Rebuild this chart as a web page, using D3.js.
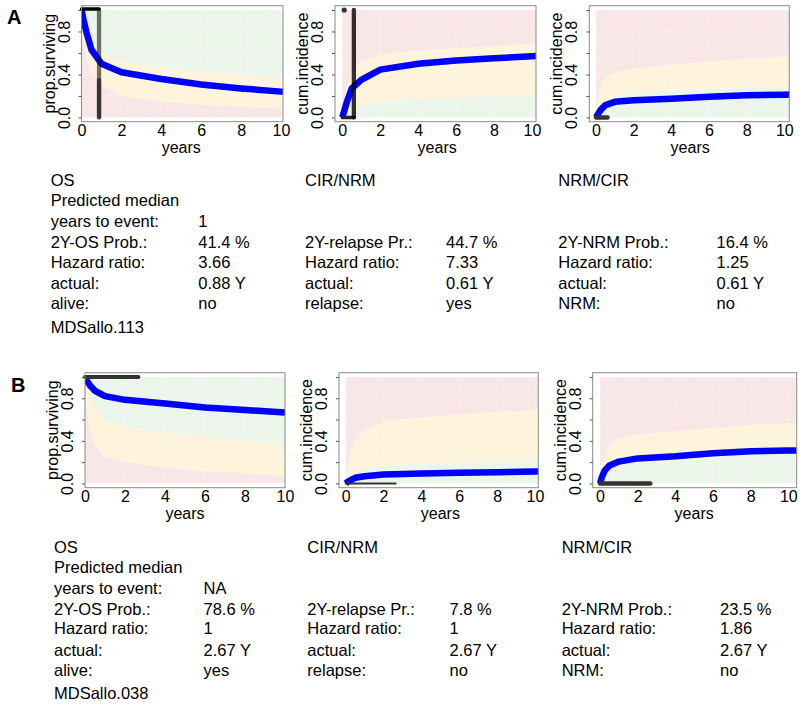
<!DOCTYPE html>
<html><head><meta charset="utf-8">
<script src="https://cdn.jsdelivr.net/npm/d3@7"></script>
<style>
body{margin:0;background:#fff}
svg{display:block}
text{font-family:"Liberation Sans",Arial,Helvetica,sans-serif}
</style>
</head><body>
<svg id="chart" width="800" height="706"></svg>
<script>
// ---------------- DATA ----------------
const times = [0, 0.1, 0.25, 0.5, 1, 2, 4, 6, 8, 10, 10.6];
const xTicks = [0, 2, 4, 6, 8, 10];
const yTicks = [0, 0.2, 0.4, 0.6, 0.8, 1.0];
const yTickLabels = ["0.0", "", "0.4", "", "0.8", ""];

// Panel A
const osA_pred   = [1.0, 0.91, 0.79, 0.63, 0.50, 0.42, 0.357, 0.307, 0.27, 0.24, 0.232];
const osA_upper  = [1.0, 0.95, 0.85, 0.72, 0.60, 0.52, 0.47, 0.43, 0.40, 0.37, 0.36];
const osA_lower  = [1.0, 0.75, 0.55, 0.42, 0.30, 0.20, 0.15, 0.12, 0.10, 0.085, 0.08];
const cirA_pred  = [0, 0.06, 0.15, 0.27, 0.35, 0.445, 0.50, 0.53, 0.55, 0.57, 0.575];
const cirA_upper = [0, 0.15, 0.30, 0.43, 0.52, 0.58, 0.62, 0.645, 0.665, 0.685, 0.69];
const cirA_lower = [0, 0.02, 0.05, 0.08, 0.115, 0.145, 0.17, 0.185, 0.195, 0.21, 0.21];
const nrmA_pred  = [0, 0.03, 0.07, 0.115, 0.145, 0.16, 0.174, 0.192, 0.207, 0.212, 0.213];
const nrmA_upper = [0, 0.20, 0.30, 0.37, 0.42, 0.455, 0.49, 0.52, 0.545, 0.56, 0.565];
const nrmA_lower = [0, 0.06, 0.12, 0.17, 0.205, 0.235, 0.25, 0.265, 0.275, 0.28, 0.28];

// Panel B
const osB_pred   = [1.0, 0.96, 0.92, 0.87, 0.82, 0.785, 0.75, 0.714, 0.69, 0.665, 0.66];
const osB_upper  = [1.0, 0.90, 0.80, 0.70, 0.60, 0.53, 0.48, 0.44, 0.40, 0.36, 0.35];
const osB_lower  = [1.0, 0.70, 0.50, 0.35, 0.25, 0.205, 0.15, 0.12, 0.095, 0.075, 0.07];
const cirB_pred  = [0, 0.015, 0.03, 0.053, 0.068, 0.084, 0.093, 0.10, 0.106, 0.112, 0.113];
const cirB_upper = [0, 0.15, 0.28, 0.40, 0.50, 0.58, 0.62, 0.65, 0.67, 0.69, 0.695];
const cirB_lower = [0, 0.03, 0.07, 0.11, 0.145, 0.17, 0.185, 0.195, 0.20, 0.21, 0.21];
const nrmB_pred  = [0, 0.06, 0.12, 0.168, 0.205, 0.235, 0.255, 0.283, 0.303, 0.31, 0.31];
const nrmB_upper = [0, 0.17, 0.26, 0.35, 0.42, 0.458, 0.49, 0.52, 0.55, 0.565, 0.57];
const nrmB_lower = [0, 0.08, 0.13, 0.17, 0.215, 0.245, 0.26, 0.27, 0.28, 0.285, 0.285];

// patient tracks: [t0, y0, t1, y1]
const trackA_os  = [[0, 1.01, 0.88, 1.01]];
const eventA_os  = [[0.88, 1.0, 0.88, 0.0]];
const eventA_os2 = [[0.88, 0.35, 0.88, 0.0]];
const trackA_cir = [[0, 0, 0.61, 0]];
const eventA_cir = [[0.61, 0, 0.61, 1.0]];
const pointA_cir = [[0.1, 1.0]];
const trackA_nrm = [[0, 0, 0.61, 0]];
const trackB_os  = [[0, 1.0, 2.67, 1.0]];
const trackB_cir = [[0, 0, 2.67, 0]];
const trackB_nrm = [[0, 0, 2.67, 0]];

// text tables
const colTitles = ["OS", "CIR/NRM", "NRM/CIR"];
const rowLabels = [
  ["Predicted median", "years to event:", "2Y-OS Prob.:", "Hazard ratio:", "actual:", "alive:"],
  ["", "", "2Y-relapse Pr.:", "Hazard ratio:", "actual:", "relapse:"],
  ["", "", "2Y-NRM Prob.:", "Hazard ratio:", "actual:", "NRM:"]
];
const valuesA = [
  ["", "1", "41.4 %", "3.66", "0.88 Y", "no"],
  ["", "", "44.7 %", "7.33", "0.61 Y", "yes"],
  ["", "", "16.4 %", "1.25", "0.61 Y", "no"]
];
const valuesB = [
  ["", "NA", "78.6 %", "1", "2.67 Y", "yes"],
  ["", "", "7.8 %", "1", "2.67 Y", "no"],
  ["", "", "23.5 %", "1.86", "2.67 Y", "no"]
];
const patientIds = ["MDSallo.113", "MDSallo.038"];
const panelLetters = ["A", "B"];

// ---------------- LAYOUT / STYLE ----------------
const COL = {green: "#ecf5ea", yellow: "#fdf4db", pink: "#f9e7e7", blue: "#0000ff"};
const FONT = 16;

const plots = [
  {kind: "os",  ylab: "prop.surviving", left: 81.5, right: 283, x0: 81.5, x10: 281, top: 5.7, bottom: 121.7,
   pred: osA_pred, up: osA_upper, lo: osA_lower, track: trackA_os, ev: eventA_os, ev2: eventA_os2, trackW: 3.5, trackC: "#000"},
  {kind: "ci",  ylab: "cum.incidence", left: 335, right: 536, x0: 342.3, x10: 532, top: 5.7, bottom: 121.7,
   pred: cirA_pred, up: cirA_upper, lo: cirA_lower, track: trackA_cir, ev: eventA_cir, pts: pointA_cir, trackW: 3.5, trackC: "#2a2222"},
  {kind: "ci",  ylab: "cum.incidence", left: 589.3, right: 789.3, x0: 596, x10: 784.3, top: 5.7, bottom: 121.7,
   pred: nrmA_pred, up: nrmA_upper, lo: nrmA_lower, track: trackA_nrm, trackW: 4.5, trackC: "#333"},
  {kind: "os",  ylab: "prop.surviving", left: 85, right: 285, x0: 85, x10: 285, top: 372.7, bottom: 487.7,
   pred: osB_pred, up: osB_upper, lo: osB_lower, track: trackB_os, trackW: 4, trackC: "#333", dash: "3,1.2"},
  {kind: "ci",  ylab: "cum.incidence", left: 339, right: 538.3, x0: 345.7, x10: 535, top: 372.7, bottom: 487.7,
   pred: cirB_pred, up: cirB_upper, lo: cirB_lower, track: trackB_cir, trackW: 2, trackC: "#333", dash: "2,1"},
  {kind: "ci",  ylab: "cum.incidence", left: 592.7, right: 796.7, x0: 600, x10: 788.3, top: 372.7, bottom: 487.7,
   pred: nrmB_pred, up: nrmB_upper, lo: nrmB_lower, track: trackB_nrm, trackW: 4.5, trackC: "#333"}
];

const svg = d3.select("#chart");

plots.forEach((p, i) => {
  const x = d3.scaleLinear().domain([0, 10]).range([p.x0, p.x10]);
  const y = d3.scaleLinear().domain([-0.04, 1.04]).range([p.bottom, p.top]);
  const g = svg.append("g");
  const clipId = "clip" + i;
  svg.append("defs").append("clipPath").attr("id", clipId)
    .append("rect").attr("x", p.left).attr("y", p.top)
    .attr("width", p.right - p.left).attr("height", p.bottom - p.top);

  const data = times.map((t, k) => ({t, pr: p.pred[k], up: p.up[k], lo: p.lo[k]}));
  const plotG = g.append("g").attr("clip-path", `url(#${clipId})`);

  const area = (y0f, y1f) => d3.area().x(d => x(d.t)).y0(d => y(y0f(d))).y1(d => y(y1f(d)));
  let bands;
  if (p.kind === "os") {
    bands = [
      {c: COL.pink,   a: area(d => 0, d => d.lo)},
      {c: COL.yellow, a: area(d => d.lo, d => d.up)},
      {c: COL.green,  a: area(d => d.up, d => 1)}
    ];
  } else {
    bands = [
      {c: COL.green,  a: area(d => 0, d => d.lo)},
      {c: COL.yellow, a: area(d => d.lo, d => d.up)},
      {c: COL.pink,   a: area(d => d.up, d => 1)}
    ];
  }
  bands.forEach(b => plotG.append("path").datum(data).attr("d", b.a).attr("fill", b.c));

  // grid
  const grid = plotG.append("g").attr("stroke", "#ffffff").attr("stroke-width", 1)
    .attr("stroke-dasharray", "1,2").attr("opacity", 0.8);
  xTicks.forEach(t => grid.append("line").attr("x1", x(t)).attr("x2", x(t)).attr("y1", y(0)).attr("y2", y(1)));
  yTicks.forEach(t => grid.append("line").attr("x1", x(0)).attr("x2", p.right).attr("y1", y(t)).attr("y2", y(t)));

  // predicted line
  plotG.append("path").datum(data)
    .attr("d", d3.line().x(d => x(d.t)).y(d => y(d.pr)))
    .attr("fill", "none").attr("stroke", COL.blue).attr("stroke-width", 6.5)
    .attr("stroke-linejoin", "round");

  // patient track
  const segs = g.append("g");
  (p.track || []).forEach(s => segs.append("line")
    .attr("x1", x(s[0])).attr("y1", y(s[1])).attr("x2", x(s[2])).attr("y2", y(s[3]))
    .attr("stroke", p.trackC).attr("stroke-width", p.trackW).attr("stroke-linecap", "round")
    .attr("stroke-dasharray", p.dash || null));
  (p.ev || []).forEach(s => segs.append("line")
    .attr("x1", x(s[0])).attr("y1", y(s[1])).attr("x2", x(s[2])).attr("y2", y(s[3]))
    .attr("stroke", "#000").attr("stroke-opacity", p.kind === "os" ? 0.55 : 0.8)
    .attr("stroke-width", 4.3).attr("stroke-linecap", "round"));
  (p.ev2 || []).forEach(s => segs.append("line")
    .attr("x1", x(s[0])).attr("y1", y(s[1])).attr("x2", x(s[2])).attr("y2", y(s[3]))
    .attr("stroke", "#000").attr("stroke-opacity", 0.5)
    .attr("stroke-width", 4.3).attr("stroke-linecap", "round"));
  (p.pts || []).forEach(s => segs.append("circle")
    .attr("cx", x(s[0])).attr("cy", y(s[1])).attr("r", 2.6).attr("fill", "#333"));

  // box
  g.append("rect").attr("x", p.left).attr("y", p.top)
    .attr("width", p.right - p.left).attr("height", p.bottom - p.top)
    .attr("fill", "none").attr("stroke", "#8a8a8a").attr("stroke-width", 1);

  // y axis
  const ya = g.append("g").attr("transform", `translate(${p.left},0)`)
    .call(d3.axisLeft(y).tickValues(yTicks).tickSize(3).tickFormat((d, k) => yTickLabels[k]));
  ya.select(".domain").remove();
  ya.selectAll(".tick line").attr("stroke", "#555");
  ya.selectAll(".tick text")
    .attr("x", 0).attr("y", -12).attr("dy", 0)
    .attr("transform", "rotate(-90)").attr("text-anchor", "middle")
    .attr("font-size", FONT).attr("fill", "#000")
    .style("font-family", '"Liberation Sans", Arial, sans-serif');

  // x axis
  const xa = g.append("g").attr("transform", `translate(0,${p.bottom})`)
    .call(d3.axisBottom(x).tickValues(xTicks).tickSize(0).tickFormat(d3.format("d")));
  xa.select(".domain").remove();
  xa.selectAll(".tick text").attr("y", 14).attr("dy", 0)
    .attr("font-size", FONT).attr("fill", "#000")
    .style("font-family", '"Liberation Sans", Arial, sans-serif');

  // axis titles
  g.append("text").attr("transform", `translate(${p.left - 27},${(p.top + p.bottom) / 2}) rotate(-90)`)
    .attr("text-anchor", "middle").attr("font-size", FONT).text(p.ylab);
  g.append("text").attr("x", (p.x0 + p.x10) / 2).attr("y", p.bottom + 31.5)
    .attr("text-anchor", "middle").attr("font-size", FONT).text("years");
});

// panel letters
const letterPos = [{x: 7, y: 23.5}, {x: 11, y: 391.5}];
panelLetters.forEach((L, i) => svg.append("text").attr("x", letterPos[i].x).attr("y", letterPos[i].y)
  .attr("font-size", 20).attr("font-weight", "bold").text(L));

// text tables
const TF = 16.5;
const rowOffsets = [20, 41, 62.3, 81.7, 103.3, 123.3];
const idOffset = 146.7;
const tables = [
  {vals: valuesA, id: patientIds[0], titleY: 180, labX: [50.7, 305, 558.3], valX: [198.3, 446, 716.5]},
  {vals: valuesB, id: patientIds[1], titleY: 546.7, labX: [54, 307.3, 561.7], valX: [203.5, 449.5, 720]}
];
tables.forEach(tb => {
  const base = tb.titleY + 6;
  colTitles.forEach((t, c) => {
    svg.append("text").attr("x", tb.labX[c]).attr("y", base).attr("font-size", TF).text(t);
    rowLabels[c].forEach((lab, r) => {
      if (lab) svg.append("text").attr("x", tb.labX[c]).attr("y", base + rowOffsets[r]).attr("font-size", TF).text(lab);
      const v = tb.vals[c][r];
      if (v) svg.append("text").attr("x", tb.valX[c]).attr("y", base + rowOffsets[r]).attr("font-size", TF).text(v);
    });
  });
  svg.append("text").attr("x", tb.labX[0]).attr("y", base + idOffset).attr("font-size", TF).text(tb.id);
});
</script>
</body></html>
